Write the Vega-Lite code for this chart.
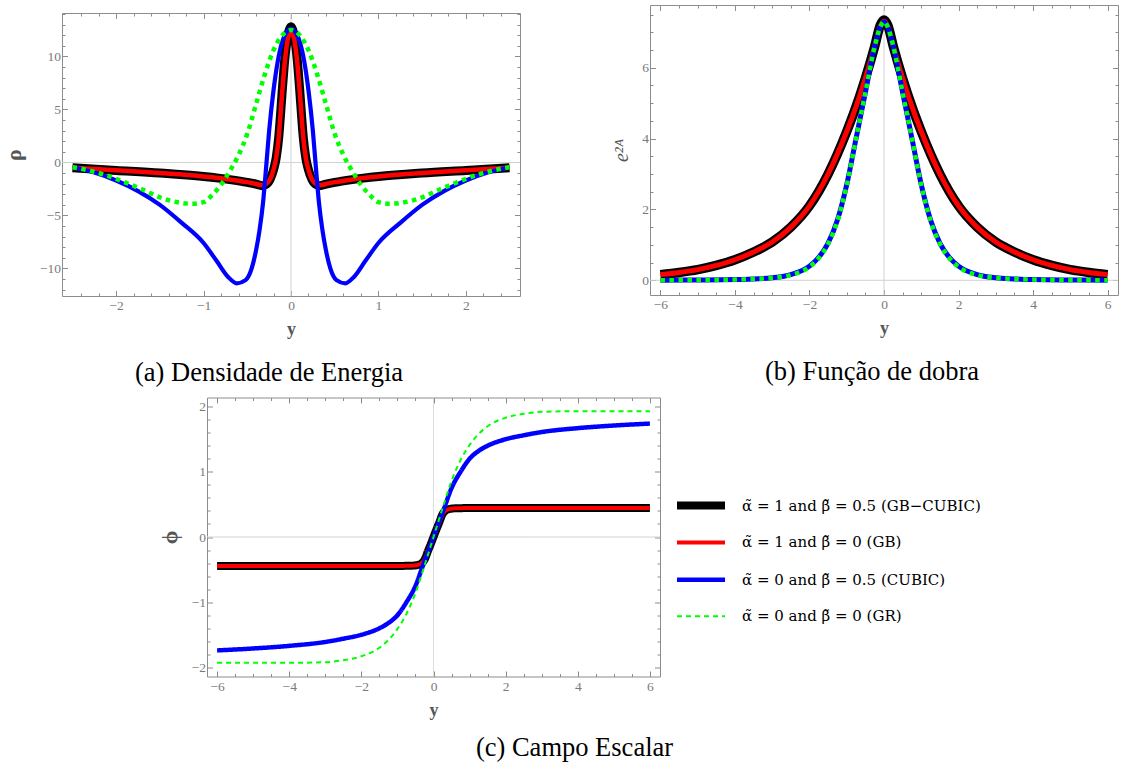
{
  "$schema": "https://vega.github.io/schema/vega-lite/v6.json",
  "background": "white",
  "padding": {"left": 1, "top": 4, "right": 1, "bottom": 2},
  "datasets": {
    "curves": [
      {"p":"a","m":"GB-CUBIC","y":-2.5,"f":-0.5},{"p":"a","m":"GB-CUBIC","y":-2,"f":-0.75},{"p":"a","m":"GB-CUBIC","y":-1.5,"f":-1},{"p":"a","m":"GB-CUBIC","y":-1,"f":-1.33},{"p":"a","m":"GB-CUBIC","y":-0.7,"f":-1.62},{"p":"a","m":"GB-CUBIC","y":-0.5,"f":-1.88},{"p":"a","m":"GB-CUBIC","y":-0.4,"f":-2.05},{"p":"a","m":"GB-CUBIC","y":-0.33,"f":-2.2},{"p":"a","m":"GB-CUBIC","y":-0.28,"f":-2.05},{"p":"a","m":"GB-CUBIC","y":-0.24,"f":-1.6},{"p":"a","m":"GB-CUBIC","y":-0.2,"f":-0.7},{"p":"a","m":"GB-CUBIC","y":-0.17,"f":0.4},{"p":"a","m":"GB-CUBIC","y":-0.14,"f":2.4},{"p":"a","m":"GB-CUBIC","y":-0.12,"f":4.5},{"p":"a","m":"GB-CUBIC","y":-0.1,"f":6.8},{"p":"a","m":"GB-CUBIC","y":-0.08,"f":8.9},{"p":"a","m":"GB-CUBIC","y":-0.06,"f":10.6},{"p":"a","m":"GB-CUBIC","y":-0.04,"f":11.8},{"p":"a","m":"GB-CUBIC","y":-0.02,"f":12.5},{"p":"a","m":"GB-CUBIC","y":0,"f":12.8},{"p":"a","m":"GB-CUBIC","y":0.02,"f":12.5},{"p":"a","m":"GB-CUBIC","y":0.04,"f":11.8},{"p":"a","m":"GB-CUBIC","y":0.06,"f":10.6},{"p":"a","m":"GB-CUBIC","y":0.08,"f":8.9},{"p":"a","m":"GB-CUBIC","y":0.1,"f":6.8},{"p":"a","m":"GB-CUBIC","y":0.12,"f":4.5},{"p":"a","m":"GB-CUBIC","y":0.14,"f":2.4},{"p":"a","m":"GB-CUBIC","y":0.17,"f":0.4},{"p":"a","m":"GB-CUBIC","y":0.2,"f":-0.7},{"p":"a","m":"GB-CUBIC","y":0.24,"f":-1.6},{"p":"a","m":"GB-CUBIC","y":0.28,"f":-2.05},{"p":"a","m":"GB-CUBIC","y":0.33,"f":-2.2},{"p":"a","m":"GB-CUBIC","y":0.4,"f":-2.05},{"p":"a","m":"GB-CUBIC","y":0.5,"f":-1.88},{"p":"a","m":"GB-CUBIC","y":0.7,"f":-1.62},{"p":"a","m":"GB-CUBIC","y":1,"f":-1.33},{"p":"a","m":"GB-CUBIC","y":1.5,"f":-1},{"p":"a","m":"GB-CUBIC","y":2,"f":-0.75},{"p":"a","m":"GB-CUBIC","y":2.5,"f":-0.5},

      {"p":"a","m":"GB","y":-2.5,"f":-0.5},{"p":"a","m":"GB","y":-2,"f":-0.74},{"p":"a","m":"GB","y":-1.5,"f":-1},{"p":"a","m":"GB","y":-1,"f":-1.32},{"p":"a","m":"GB","y":-0.7,"f":-1.6},{"p":"a","m":"GB","y":-0.5,"f":-1.86},{"p":"a","m":"GB","y":-0.4,"f":-2.03},{"p":"a","m":"GB","y":-0.33,"f":-2.15},{"p":"a","m":"GB","y":-0.28,"f":-2.0},{"p":"a","m":"GB","y":-0.24,"f":-1.6},{"p":"a","m":"GB","y":-0.2,"f":-0.7},{"p":"a","m":"GB","y":-0.17,"f":0.4},{"p":"a","m":"GB","y":-0.14,"f":2.4},{"p":"a","m":"GB","y":-0.12,"f":4.5},{"p":"a","m":"GB","y":-0.1,"f":6.7},{"p":"a","m":"GB","y":-0.08,"f":8.7},{"p":"a","m":"GB","y":-0.06,"f":10.3},{"p":"a","m":"GB","y":-0.04,"f":11.5},{"p":"a","m":"GB","y":-0.02,"f":12.1},{"p":"a","m":"GB","y":0,"f":12.4},{"p":"a","m":"GB","y":0.02,"f":12.1},{"p":"a","m":"GB","y":0.04,"f":11.5},{"p":"a","m":"GB","y":0.06,"f":10.3},{"p":"a","m":"GB","y":0.08,"f":8.7},{"p":"a","m":"GB","y":0.1,"f":6.7},{"p":"a","m":"GB","y":0.12,"f":4.5},{"p":"a","m":"GB","y":0.14,"f":2.4},{"p":"a","m":"GB","y":0.17,"f":0.4},{"p":"a","m":"GB","y":0.2,"f":-0.7},{"p":"a","m":"GB","y":0.24,"f":-1.6},{"p":"a","m":"GB","y":0.28,"f":-2.0},{"p":"a","m":"GB","y":0.33,"f":-2.15},{"p":"a","m":"GB","y":0.4,"f":-2.03},{"p":"a","m":"GB","y":0.5,"f":-1.86},{"p":"a","m":"GB","y":0.7,"f":-1.6},{"p":"a","m":"GB","y":1,"f":-1.32},{"p":"a","m":"GB","y":1.5,"f":-1},{"p":"a","m":"GB","y":2,"f":-0.74},{"p":"a","m":"GB","y":2.5,"f":-0.5},

      {"p":"a","m":"CUBIC","y":-2.5,"f":-0.45},{"p":"a","m":"CUBIC","y":-2.25,"f":-0.95},{"p":"a","m":"CUBIC","y":-2,"f":-1.7},{"p":"a","m":"CUBIC","y":-1.75,"f":-2.7},{"p":"a","m":"CUBIC","y":-1.5,"f":-4.0},{"p":"a","m":"CUBIC","y":-1.25,"f":-5.7},{"p":"a","m":"CUBIC","y":-1,"f":-7.6},{"p":"a","m":"CUBIC","y":-0.85,"f":-9.3},{"p":"a","m":"CUBIC","y":-0.72,"f":-10.8},{"p":"a","m":"CUBIC","y":-0.62,"f":-11.4},{"p":"a","m":"CUBIC","y":-0.52,"f":-11.1},{"p":"a","m":"CUBIC","y":-0.45,"f":-10.0},{"p":"a","m":"CUBIC","y":-0.4,"f":-8.3},{"p":"a","m":"CUBIC","y":-0.36,"f":-6.4},{"p":"a","m":"CUBIC","y":-0.32,"f":-3.8},{"p":"a","m":"CUBIC","y":-0.285,"f":-0.5},{"p":"a","m":"CUBIC","y":-0.25,"f":3.0},{"p":"a","m":"CUBIC","y":-0.2,"f":6.8},{"p":"a","m":"CUBIC","y":-0.15,"f":9.6},{"p":"a","m":"CUBIC","y":-0.1,"f":11.4},{"p":"a","m":"CUBIC","y":-0.05,"f":12.3},{"p":"a","m":"CUBIC","y":0,"f":12.6},{"p":"a","m":"CUBIC","y":0.05,"f":12.3},{"p":"a","m":"CUBIC","y":0.1,"f":11.4},{"p":"a","m":"CUBIC","y":0.15,"f":9.6},{"p":"a","m":"CUBIC","y":0.2,"f":6.8},{"p":"a","m":"CUBIC","y":0.25,"f":3.0},{"p":"a","m":"CUBIC","y":0.285,"f":-0.5},{"p":"a","m":"CUBIC","y":0.32,"f":-3.8},{"p":"a","m":"CUBIC","y":0.36,"f":-6.4},{"p":"a","m":"CUBIC","y":0.4,"f":-8.3},{"p":"a","m":"CUBIC","y":0.45,"f":-10.0},{"p":"a","m":"CUBIC","y":0.52,"f":-11.1},{"p":"a","m":"CUBIC","y":0.62,"f":-11.4},{"p":"a","m":"CUBIC","y":0.72,"f":-10.8},{"p":"a","m":"CUBIC","y":0.85,"f":-9.3},{"p":"a","m":"CUBIC","y":1,"f":-7.6},{"p":"a","m":"CUBIC","y":1.25,"f":-5.7},{"p":"a","m":"CUBIC","y":1.5,"f":-4.0},{"p":"a","m":"CUBIC","y":1.75,"f":-2.7},{"p":"a","m":"CUBIC","y":2,"f":-1.7},{"p":"a","m":"CUBIC","y":2.25,"f":-0.95},{"p":"a","m":"CUBIC","y":2.5,"f":-0.45},

      {"p":"a","m":"GR","y":-2.5,"f":-0.44},{"p":"a","m":"GR","y":-2.3,"f":-0.78},{"p":"a","m":"GR","y":-2.1,"f":-1.25},{"p":"a","m":"GR","y":-1.9,"f":-1.88},{"p":"a","m":"GR","y":-1.7,"f":-2.55},{"p":"a","m":"GR","y":-1.5,"f":-3.3},{"p":"a","m":"GR","y":-1.3,"f":-3.75},{"p":"a","m":"GR","y":-1.13,"f":-3.9},{"p":"a","m":"GR","y":-1,"f":-3.75},{"p":"a","m":"GR","y":-0.9,"f":-3.05},{"p":"a","m":"GR","y":-0.8,"f":-2.1},{"p":"a","m":"GR","y":-0.7,"f":-0.8},{"p":"a","m":"GR","y":-0.6,"f":0.7},{"p":"a","m":"GR","y":-0.5,"f":2.7},{"p":"a","m":"GR","y":-0.4,"f":5.5},{"p":"a","m":"GR","y":-0.3,"f":8.3},{"p":"a","m":"GR","y":-0.2,"f":10.6},{"p":"a","m":"GR","y":-0.1,"f":12.0},{"p":"a","m":"GR","y":0,"f":12.5},{"p":"a","m":"GR","y":0.1,"f":12.0},{"p":"a","m":"GR","y":0.2,"f":10.6},{"p":"a","m":"GR","y":0.3,"f":8.3},{"p":"a","m":"GR","y":0.4,"f":5.5},{"p":"a","m":"GR","y":0.5,"f":2.7},{"p":"a","m":"GR","y":0.6,"f":0.7},{"p":"a","m":"GR","y":0.7,"f":-0.8},{"p":"a","m":"GR","y":0.8,"f":-2.1},{"p":"a","m":"GR","y":0.9,"f":-3.05},{"p":"a","m":"GR","y":1,"f":-3.75},{"p":"a","m":"GR","y":1.13,"f":-3.9},{"p":"a","m":"GR","y":1.3,"f":-3.75},{"p":"a","m":"GR","y":1.5,"f":-3.3},{"p":"a","m":"GR","y":1.7,"f":-2.55},{"p":"a","m":"GR","y":1.9,"f":-1.88},{"p":"a","m":"GR","y":2.1,"f":-1.25},{"p":"a","m":"GR","y":2.3,"f":-0.78},{"p":"a","m":"GR","y":2.5,"f":-0.44},

      {"p":"b","m":"GB-CUBIC","y":-6,"f":0.16},{"p":"b","m":"GB-CUBIC","y":-5.5,"f":0.22},{"p":"b","m":"GB-CUBIC","y":-5,"f":0.3},{"p":"b","m":"GB-CUBIC","y":-4.5,"f":0.42},{"p":"b","m":"GB-CUBIC","y":-4,"f":0.58},{"p":"b","m":"GB-CUBIC","y":-3.5,"f":0.8},{"p":"b","m":"GB-CUBIC","y":-3,"f":1.08},{"p":"b","m":"GB-CUBIC","y":-2.5,"f":1.5},{"p":"b","m":"GB-CUBIC","y":-2,"f":2.1},{"p":"b","m":"GB-CUBIC","y":-1.5,"f":3.0},{"p":"b","m":"GB-CUBIC","y":-1,"f":4.2},{"p":"b","m":"GB-CUBIC","y":-0.75,"f":4.9},{"p":"b","m":"GB-CUBIC","y":-0.5,"f":5.7},{"p":"b","m":"GB-CUBIC","y":-0.25,"f":6.6},{"p":"b","m":"GB-CUBIC","y":-0.1,"f":7.2},{"p":"b","m":"GB-CUBIC","y":0,"f":7.35},{"p":"b","m":"GB-CUBIC","y":0.1,"f":7.2},{"p":"b","m":"GB-CUBIC","y":0.25,"f":6.6},{"p":"b","m":"GB-CUBIC","y":0.5,"f":5.7},{"p":"b","m":"GB-CUBIC","y":0.75,"f":4.9},{"p":"b","m":"GB-CUBIC","y":1,"f":4.2},{"p":"b","m":"GB-CUBIC","y":1.5,"f":3.0},{"p":"b","m":"GB-CUBIC","y":2,"f":2.1},{"p":"b","m":"GB-CUBIC","y":2.5,"f":1.5},{"p":"b","m":"GB-CUBIC","y":3,"f":1.08},{"p":"b","m":"GB-CUBIC","y":3.5,"f":0.8},{"p":"b","m":"GB-CUBIC","y":4,"f":0.58},{"p":"b","m":"GB-CUBIC","y":4.5,"f":0.42},{"p":"b","m":"GB-CUBIC","y":5,"f":0.3},{"p":"b","m":"GB-CUBIC","y":5.5,"f":0.22},{"p":"b","m":"GB-CUBIC","y":6,"f":0.16},

      {"p":"b","m":"GB","y":-6,"f":0.16},{"p":"b","m":"GB","y":-5.5,"f":0.22},{"p":"b","m":"GB","y":-5,"f":0.3},{"p":"b","m":"GB","y":-4.5,"f":0.42},{"p":"b","m":"GB","y":-4,"f":0.58},{"p":"b","m":"GB","y":-3.5,"f":0.8},{"p":"b","m":"GB","y":-3,"f":1.08},{"p":"b","m":"GB","y":-2.5,"f":1.5},{"p":"b","m":"GB","y":-2,"f":2.1},{"p":"b","m":"GB","y":-1.5,"f":3.0},{"p":"b","m":"GB","y":-1,"f":4.2},{"p":"b","m":"GB","y":-0.75,"f":4.9},{"p":"b","m":"GB","y":-0.5,"f":5.7},{"p":"b","m":"GB","y":-0.25,"f":6.6},{"p":"b","m":"GB","y":-0.1,"f":7.17},{"p":"b","m":"GB","y":0,"f":7.32},{"p":"b","m":"GB","y":0.1,"f":7.17},{"p":"b","m":"GB","y":0.25,"f":6.6},{"p":"b","m":"GB","y":0.5,"f":5.7},{"p":"b","m":"GB","y":0.75,"f":4.9},{"p":"b","m":"GB","y":1,"f":4.2},{"p":"b","m":"GB","y":1.5,"f":3.0},{"p":"b","m":"GB","y":2,"f":2.1},{"p":"b","m":"GB","y":2.5,"f":1.5},{"p":"b","m":"GB","y":3,"f":1.08},{"p":"b","m":"GB","y":3.5,"f":0.8},{"p":"b","m":"GB","y":4,"f":0.58},{"p":"b","m":"GB","y":4.5,"f":0.42},{"p":"b","m":"GB","y":5,"f":0.3},{"p":"b","m":"GB","y":5.5,"f":0.22},{"p":"b","m":"GB","y":6,"f":0.16},

      {"p":"b","m":"CUBIC","y":-6,"f":0.003},{"p":"b","m":"CUBIC","y":-5,"f":0.008},{"p":"b","m":"CUBIC","y":-4,"f":0.02},{"p":"b","m":"CUBIC","y":-3.5,"f":0.04},{"p":"b","m":"CUBIC","y":-3,"f":0.07},{"p":"b","m":"CUBIC","y":-2.5,"f":0.16},{"p":"b","m":"CUBIC","y":-2,"f":0.4},{"p":"b","m":"CUBIC","y":-1.75,"f":0.65},{"p":"b","m":"CUBIC","y":-1.5,"f":1.05},{"p":"b","m":"CUBIC","y":-1.25,"f":1.7},{"p":"b","m":"CUBIC","y":-1,"f":2.7},{"p":"b","m":"CUBIC","y":-0.75,"f":4.0},{"p":"b","m":"CUBIC","y":-0.5,"f":5.3},{"p":"b","m":"CUBIC","y":-0.25,"f":6.6},{"p":"b","m":"CUBIC","y":-0.1,"f":7.15},{"p":"b","m":"CUBIC","y":0,"f":7.3},{"p":"b","m":"CUBIC","y":0.1,"f":7.15},{"p":"b","m":"CUBIC","y":0.25,"f":6.6},{"p":"b","m":"CUBIC","y":0.5,"f":5.3},{"p":"b","m":"CUBIC","y":0.75,"f":4.0},{"p":"b","m":"CUBIC","y":1,"f":2.7},{"p":"b","m":"CUBIC","y":1.25,"f":1.7},{"p":"b","m":"CUBIC","y":1.5,"f":1.05},{"p":"b","m":"CUBIC","y":1.75,"f":0.65},{"p":"b","m":"CUBIC","y":2,"f":0.4},{"p":"b","m":"CUBIC","y":2.5,"f":0.16},{"p":"b","m":"CUBIC","y":3,"f":0.07},{"p":"b","m":"CUBIC","y":3.5,"f":0.04},{"p":"b","m":"CUBIC","y":4,"f":0.02},{"p":"b","m":"CUBIC","y":5,"f":0.008},{"p":"b","m":"CUBIC","y":6,"f":0.003},

      {"p":"b","m":"GR","y":-6,"f":0.003},{"p":"b","m":"GR","y":-5,"f":0.008},{"p":"b","m":"GR","y":-4,"f":0.02},{"p":"b","m":"GR","y":-3.5,"f":0.04},{"p":"b","m":"GR","y":-3,"f":0.07},{"p":"b","m":"GR","y":-2.5,"f":0.15},{"p":"b","m":"GR","y":-2,"f":0.38},{"p":"b","m":"GR","y":-1.75,"f":0.63},{"p":"b","m":"GR","y":-1.5,"f":1.03},{"p":"b","m":"GR","y":-1.25,"f":1.68},{"p":"b","m":"GR","y":-1,"f":2.68},{"p":"b","m":"GR","y":-0.75,"f":4.0},{"p":"b","m":"GR","y":-0.5,"f":5.3},{"p":"b","m":"GR","y":-0.25,"f":6.6},{"p":"b","m":"GR","y":-0.1,"f":7.15},{"p":"b","m":"GR","y":0,"f":7.3},{"p":"b","m":"GR","y":0.1,"f":7.15},{"p":"b","m":"GR","y":0.25,"f":6.6},{"p":"b","m":"GR","y":0.5,"f":5.3},{"p":"b","m":"GR","y":0.75,"f":4.0},{"p":"b","m":"GR","y":1,"f":2.68},{"p":"b","m":"GR","y":1.25,"f":1.68},{"p":"b","m":"GR","y":1.5,"f":1.03},{"p":"b","m":"GR","y":1.75,"f":0.63},{"p":"b","m":"GR","y":2,"f":0.38},{"p":"b","m":"GR","y":2.5,"f":0.15},{"p":"b","m":"GR","y":3,"f":0.07},{"p":"b","m":"GR","y":3.5,"f":0.04},{"p":"b","m":"GR","y":4,"f":0.02},{"p":"b","m":"GR","y":5,"f":0.008},{"p":"b","m":"GR","y":6,"f":0.003},

      {"p":"c","m":"GB-CUBIC","y":-6,"f":-0.445},{"p":"c","m":"GB-CUBIC","y":-3,"f":-0.445},{"p":"c","m":"GB-CUBIC","y":-1,"f":-0.444},{"p":"c","m":"GB-CUBIC","y":-0.6,"f":-0.44},{"p":"c","m":"GB-CUBIC","y":-0.45,"f":-0.43},{"p":"c","m":"GB-CUBIC","y":-0.35,"f":-0.41},{"p":"c","m":"GB-CUBIC","y":-0.25,"f":-0.35},{"p":"c","m":"GB-CUBIC","y":-0.15,"f":-0.21},{"p":"c","m":"GB-CUBIC","y":-0.07,"f":-0.1},{"p":"c","m":"GB-CUBIC","y":0,"f":0},{"p":"c","m":"GB-CUBIC","y":0.07,"f":0.1},{"p":"c","m":"GB-CUBIC","y":0.15,"f":0.21},{"p":"c","m":"GB-CUBIC","y":0.25,"f":0.35},{"p":"c","m":"GB-CUBIC","y":0.35,"f":0.41},{"p":"c","m":"GB-CUBIC","y":0.45,"f":0.43},{"p":"c","m":"GB-CUBIC","y":0.6,"f":0.44},{"p":"c","m":"GB-CUBIC","y":1,"f":0.444},{"p":"c","m":"GB-CUBIC","y":3,"f":0.445},{"p":"c","m":"GB-CUBIC","y":6,"f":0.445},

      {"p":"c","m":"GB","y":-6,"f":-0.445},{"p":"c","m":"GB","y":-3,"f":-0.445},{"p":"c","m":"GB","y":-1,"f":-0.444},{"p":"c","m":"GB","y":-0.6,"f":-0.44},{"p":"c","m":"GB","y":-0.45,"f":-0.43},{"p":"c","m":"GB","y":-0.35,"f":-0.41},{"p":"c","m":"GB","y":-0.25,"f":-0.35},{"p":"c","m":"GB","y":-0.15,"f":-0.21},{"p":"c","m":"GB","y":-0.07,"f":-0.1},{"p":"c","m":"GB","y":0,"f":0},{"p":"c","m":"GB","y":0.07,"f":0.1},{"p":"c","m":"GB","y":0.15,"f":0.21},{"p":"c","m":"GB","y":0.25,"f":0.35},{"p":"c","m":"GB","y":0.35,"f":0.41},{"p":"c","m":"GB","y":0.45,"f":0.43},{"p":"c","m":"GB","y":0.6,"f":0.44},{"p":"c","m":"GB","y":1,"f":0.444},{"p":"c","m":"GB","y":3,"f":0.445},{"p":"c","m":"GB","y":6,"f":0.445},

      {"p":"c","m":"CUBIC","y":-6,"f":-1.74},{"p":"c","m":"CUBIC","y":-5,"f":-1.71},{"p":"c","m":"CUBIC","y":-4,"f":-1.67},{"p":"c","m":"CUBIC","y":-3,"f":-1.61},{"p":"c","m":"CUBIC","y":-2.5,"f":-1.56},{"p":"c","m":"CUBIC","y":-2,"f":-1.5},{"p":"c","m":"CUBIC","y":-1.5,"f":-1.4},{"p":"c","m":"CUBIC","y":-1.25,"f":-1.32},{"p":"c","m":"CUBIC","y":-1,"f":-1.2},{"p":"c","m":"CUBIC","y":-0.75,"f":-1.0},{"p":"c","m":"CUBIC","y":-0.5,"f":-0.75},{"p":"c","m":"CUBIC","y":-0.3,"f":-0.45},{"p":"c","m":"CUBIC","y":-0.15,"f":-0.23},{"p":"c","m":"CUBIC","y":0,"f":0},{"p":"c","m":"CUBIC","y":0.15,"f":0.23},{"p":"c","m":"CUBIC","y":0.3,"f":0.45},{"p":"c","m":"CUBIC","y":0.5,"f":0.75},{"p":"c","m":"CUBIC","y":0.75,"f":1.0},{"p":"c","m":"CUBIC","y":1,"f":1.2},{"p":"c","m":"CUBIC","y":1.25,"f":1.32},{"p":"c","m":"CUBIC","y":1.5,"f":1.4},{"p":"c","m":"CUBIC","y":2,"f":1.5},{"p":"c","m":"CUBIC","y":2.5,"f":1.56},{"p":"c","m":"CUBIC","y":3,"f":1.61},{"p":"c","m":"CUBIC","y":4,"f":1.67},{"p":"c","m":"CUBIC","y":5,"f":1.71},{"p":"c","m":"CUBIC","y":6,"f":1.74},

      {"p":"c","m":"GR","y":-6,"f":-1.93},{"p":"c","m":"GR","y":-4,"f":-1.93},{"p":"c","m":"GR","y":-3,"f":-1.92},{"p":"c","m":"GR","y":-2.5,"f":-1.89},{"p":"c","m":"GR","y":-2,"f":-1.83},{"p":"c","m":"GR","y":-1.5,"f":-1.7},{"p":"c","m":"GR","y":-1.25,"f":-1.58},{"p":"c","m":"GR","y":-1,"f":-1.41},{"p":"c","m":"GR","y":-0.75,"f":-1.18},{"p":"c","m":"GR","y":-0.5,"f":-0.86},{"p":"c","m":"GR","y":-0.25,"f":-0.44},{"p":"c","m":"GR","y":0,"f":0},{"p":"c","m":"GR","y":0.25,"f":0.44},{"p":"c","m":"GR","y":0.5,"f":0.86},{"p":"c","m":"GR","y":0.75,"f":1.18},{"p":"c","m":"GR","y":1,"f":1.41},{"p":"c","m":"GR","y":1.25,"f":1.58},{"p":"c","m":"GR","y":1.5,"f":1.7},{"p":"c","m":"GR","y":2,"f":1.83},{"p":"c","m":"GR","y":2.5,"f":1.89},{"p":"c","m":"GR","y":3,"f":1.92},{"p":"c","m":"GR","y":4,"f":1.93},{"p":"c","m":"GR","y":6,"f":1.93}
    ]
  },
  "config": {
    "view": {"stroke": "#8c8c8c", "strokeWidth": 1},
    "font": "Liberation Serif",
    "axis": {
      "domain": false, "grid": false, "minExtent": 0,
      "labelFont": "Liberation Serif", "labelFontSize": 13.5, "labelColor": "#7a7a7a",
      "labelOverlap": false, "labelFlush": false,
      "tickColor": "#8c8c8c", "tickWidth": 1,
      "titleFont": "Liberation Serif", "titleFontWeight": "bold", "titleFontSize": 18, "titleColor": "#555555"
    },
    "axisX": {"minExtent": 0},
    "axisY": {"minExtent": 0},
    "title": {"font": "Liberation Serif", "fontSize": 26.5, "fontWeight": "normal", "color": "#000000", "orient": "bottom", "anchor": "middle", "frame": "group", "offset": 21},
    "line": {"interpolate": "monotone", "strokeCap": "butt", "strokeJoin": "round"}
  },
  "spacing": 9.5,
  "resolve": {"legend": {"color": "independent", "strokeWidth": "independent", "strokeDash": "independent"}},
  "vconcat": [
    {
      "spacing": 90,
      "hconcat": [
        {
          "spacing": 0,
          "vconcat": [
            {"width": 10, "height": 1, "data": {"values": []}, "mark": {"type": "point", "opacity": 0}, "encoding": {}, "view": {"stroke": null}},
            {
              "width": 458, "height": 283,
              "title": {"text": "(a) Densidade de Energia", "dx": -22},
              "data": {"name": "curves"},
              "resolve": {"axis": {"x": "independent", "y": "independent"}},
              "layer": [
                {
                  "data": {"values": [{}]},
                  "mark": {"type": "rule", "color": "#d2d2d2", "strokeWidth": 1},
                  "encoding": {
                    "y": {"datum": 0, "type": "quantitative", "scale": {"domain": [-12.6, 14.1], "nice": false, "zero": false},
                      "axis": {"orient": "right", "labels": false, "title": null,
                        "values": [-12,-11,-10,-9,-8,-7,-6,-5,-4,-3,-2,-1,0,1,2,3,4,5,6,7,8,9,10,11,12,13,14],
                        "tickSize": {"condition": {"test": "datum.value % 5 === 0", "value": -5.5}, "value": -3}}}
                  }
                },
                {
                  "data": {"values": [{}]},
                  "mark": {"type": "rule", "color": "#d2d2d2", "strokeWidth": 1},
                  "encoding": {
                    "x": {"datum": 0, "type": "quantitative", "scale": {"domain": [-2.62, 2.62], "nice": false, "zero": false},
                      "axis": {"orient": "top", "labels": false, "title": null,
                        "values": [-2.4,-2.2,-2,-1.8,-1.6,-1.4,-1.2,-1,-0.8,-0.6,-0.4,-0.2,0,0.2,0.4,0.6,0.8,1,1.2,1.4,1.6,1.8,2,2.2,2.4],
                        "tickSize": {"condition": {"test": "abs(datum.value - round(datum.value)) < 1e-6", "value": -5.5}, "value": -3}}}
                  }
                },
                {
                  "transform": [{"filter": "datum.p == 'a' && datum.m == 'GB-CUBIC'"}],
                  "mark": {"type": "line", "color": "#000000", "strokeWidth": 9},
                  "encoding": {
                    "x": {"field": "y", "type": "quantitative", "scale": {"domain": [-2.62, 2.62], "nice": false, "zero": false},
                      "axis": {"orient": "bottom", "title": "y", "titlePadding": 6, "labelPadding": 8, "format": "~g",
                        "values": [-2.4,-2.2,-2,-1.8,-1.6,-1.4,-1.2,-1,-0.8,-0.6,-0.4,-0.2,0,0.2,0.4,0.6,0.8,1,1.2,1.4,1.6,1.8,2,2.2,2.4],
                        "tickSize": {"condition": {"test": "abs(datum.value - round(datum.value)) < 1e-6", "value": -5.5}, "value": -3},
                        "labelExpr": "abs(datum.value - round(datum.value)) < 1e-6 ? datum.label : ''"}},
                    "y": {"field": "f", "type": "quantitative", "scale": {"domain": [-12.6, 14.1], "nice": false, "zero": false},
                      "axis": {"orient": "left", "title": "ρ", "titleFontSize": 22, "titlePadding": 14, "labelPadding": 7, "format": "~g",
                        "values": [-12,-11,-10,-9,-8,-7,-6,-5,-4,-3,-2,-1,0,1,2,3,4,5,6,7,8,9,10,11,12,13,14],
                        "tickSize": {"condition": {"test": "datum.value % 5 === 0", "value": -5.5}, "value": -3},
                        "labelExpr": "datum.value % 5 === 0 ? datum.label : ''"}}
                  }
                },
                {
                  "transform": [{"filter": "datum.p == 'a' && datum.m == 'GB'"}],
                  "mark": {"type": "line", "color": "#ff0000", "strokeWidth": 4.5},
                  "encoding": {
                    "x": {"field": "y", "type": "quantitative", "scale": {"domain": [-2.62, 2.62], "nice": false, "zero": false}, "axis": null},
                    "y": {"field": "f", "type": "quantitative", "scale": {"domain": [-12.6, 14.1], "nice": false, "zero": false}, "axis": null}
                  }
                },
                {
                  "transform": [{"filter": "datum.p == 'a' && datum.m == 'CUBIC'"}],
                  "mark": {"type": "line", "color": "#0000ff", "strokeWidth": 4.2},
                  "encoding": {
                    "x": {"field": "y", "type": "quantitative", "scale": {"domain": [-2.62, 2.62], "nice": false, "zero": false}, "axis": null},
                    "y": {"field": "f", "type": "quantitative", "scale": {"domain": [-12.6, 14.1], "nice": false, "zero": false}, "axis": null}
                  }
                },
                {
                  "transform": [{"filter": "datum.p == 'a' && datum.m == 'GR'"}],
                  "mark": {"type": "line", "color": "#00ff00", "strokeWidth": 4.5, "strokeDash": [4.5, 4.5]},
                  "encoding": {
                    "x": {"field": "y", "type": "quantitative", "scale": {"domain": [-2.62, 2.62], "nice": false, "zero": false}, "axis": null},
                    "y": {"field": "f", "type": "quantitative", "scale": {"domain": [-12.6, 14.1], "nice": false, "zero": false}, "axis": null}
                  }
                }
              ]
            }
          ]
        },
        {
          "width": 468, "height": 290,
          "title": {"text": "(b) Função de dobra", "dx": -12},
          "data": {"name": "curves"},
          "resolve": {"axis": {"x": "independent", "y": "independent"}},
          "layer": [
            {
              "data": {"values": [{}]},
              "mark": {"type": "rule", "color": "#d2d2d2", "strokeWidth": 1},
              "encoding": {
                "y": {"datum": 0, "type": "quantitative", "scale": {"domain": [-0.415, 7.77], "nice": false, "zero": false},
                  "axis": {"orient": "right", "labels": false, "title": null,
                    "values": [0,0.5,1,1.5,2,2.5,3,3.5,4,4.5,5,5.5,6,6.5,7,7.5],
                    "tickSize": {"condition": {"test": "datum.value % 2 === 0", "value": -5.5}, "value": -3}}}
              }
            },
            {
              "data": {"values": [{}]},
              "mark": {"type": "rule", "color": "#d2d2d2", "strokeWidth": 1},
              "encoding": {
                "x": {"datum": 0, "type": "quantitative", "scale": {"domain": [-6.28, 6.28], "nice": false, "zero": false},
                  "axis": {"orient": "top", "labels": false, "title": null,
                    "values": [-6,-5.5,-5,-4.5,-4,-3.5,-3,-2.5,-2,-1.5,-1,-0.5,0,0.5,1,1.5,2,2.5,3,3.5,4,4.5,5,5.5,6],
                    "tickSize": {"condition": {"test": "datum.value % 2 === 0", "value": -5.5}, "value": -3}}}
              }
            },
            {
              "transform": [{"filter": "datum.p == 'b' && datum.m == 'GB-CUBIC'"}],
              "mark": {"type": "line", "color": "#000000", "strokeWidth": 9.5},
              "encoding": {
                "x": {"field": "y", "type": "quantitative", "scale": {"domain": [-6.28, 6.28], "nice": false, "zero": false},
                  "axis": {"orient": "bottom", "title": "y", "titlePadding": 6, "labelPadding": 8, "format": "~g",
                    "values": [-6,-5.5,-5,-4.5,-4,-3.5,-3,-2.5,-2,-1.5,-1,-0.5,0,0.5,1,1.5,2,2.5,3,3.5,4,4.5,5,5.5,6],
                    "tickSize": {"condition": {"test": "datum.value % 2 === 0", "value": -5.5}, "value": -3},
                    "labelExpr": "datum.value % 2 === 0 ? datum.label : ''"}},
                "y": {"field": "f", "type": "quantitative", "scale": {"domain": [-0.415, 7.77], "nice": false, "zero": false},
                  "axis": {"orient": "left", "title": "e²ᴬ", "titleFontSize": 20, "titleFontWeight": "normal", "titleFontStyle": "italic", "titlePadding": 10, "labelPadding": 7, "format": "~g",
                    "values": [0,0.5,1,1.5,2,2.5,3,3.5,4,4.5,5,5.5,6,6.5,7,7.5],
                    "tickSize": {"condition": {"test": "datum.value % 2 === 0", "value": -5.5}, "value": -3},
                    "labelExpr": "datum.value % 2 === 0 ? datum.label : ''"}}
              }
            },
            {
              "transform": [{"filter": "datum.p == 'b' && datum.m == 'GB'"}],
              "mark": {"type": "line", "color": "#ff0000", "strokeWidth": 5},
              "encoding": {
                "x": {"field": "y", "type": "quantitative", "scale": {"domain": [-6.28, 6.28], "nice": false, "zero": false}, "axis": null},
                "y": {"field": "f", "type": "quantitative", "scale": {"domain": [-0.415, 7.77], "nice": false, "zero": false}, "axis": null}
              }
            },
            {
              "transform": [{"filter": "datum.p == 'b' && datum.m == 'CUBIC'"}],
              "mark": {"type": "line", "color": "#0000ff", "strokeWidth": 5},
              "encoding": {
                "x": {"field": "y", "type": "quantitative", "scale": {"domain": [-6.28, 6.28], "nice": false, "zero": false}, "axis": null},
                "y": {"field": "f", "type": "quantitative", "scale": {"domain": [-0.415, 7.77], "nice": false, "zero": false}, "axis": null}
              }
            },
            {
              "transform": [{"filter": "datum.p == 'b' && datum.m == 'GR'"}],
              "mark": {"type": "line", "color": "#00ff00", "strokeWidth": 4.5, "strokeDash": [4.5, 4.5]},
              "encoding": {
                "x": {"field": "y", "type": "quantitative", "scale": {"domain": [-6.28, 6.28], "nice": false, "zero": false}, "axis": null},
                "y": {"field": "f", "type": "quantitative", "scale": {"domain": [-0.415, 7.77], "nice": false, "zero": false}, "axis": null}
              }
            }
          ]
        }
      ]
    },
    {
      "spacing": 20,
      "resolve": {"legend": {"color": "independent", "strokeWidth": "independent", "strokeDash": "independent"}},
      "hconcat": [
        {"width": 75, "height": 10, "data": {"values": []}, "mark": {"type": "point", "opacity": 0}, "encoding": {}, "view": {"stroke": null}},
        {
          "width": 453, "height": 279,
          "title": {"text": "(c) Campo Escalar", "offset": 16, "dx": 141},
          "data": {"name": "curves"},
          "resolve": {"axis": {"x": "independent", "y": "independent"}},
          "encoding": {
            "color": {"field": "m", "type": "nominal",
              "scale": {"domain": ["GB-CUBIC", "GB", "CUBIC", "GR"], "range": ["#000000", "#ff0000", "#0000ff", "#00ff00"]},
              "legend": {"orient": "none", "legendX": 482, "legendY": 96, "title": null, "padding": 0,
                "symbolType": "M-3,0H3", "symbolSize": 256, "labelOffset": 29, "rowPadding": 18.9,
                "labelFont": "DejaVu Serif", "labelFontSize": 15, "labelColor": "#000000", "labelLimit": 400,
                "labelExpr": "datum.label == 'GB-CUBIC' ? 'α̃ = 1 and β̃ = 0.5 (GB−CUBIC)' : datum.label == 'GB' ? 'α̃ = 1 and β̃ = 0 (GB)' : datum.label == 'CUBIC' ? 'α̃ = 0 and β̃ = 0.5 (CUBIC)' : 'α̃ = 0 and β̃ = 0 (GR)'"}},
            "strokeWidth": {"field": "m", "type": "nominal",
              "scale": {"type": "ordinal", "domain": ["GB-CUBIC", "GB", "CUBIC", "GR"], "range": [8, 4, 4.5, 2]},
              "legend": {"orient": "none", "legendX": 482, "legendY": 96, "title": null, "padding": 0,
                "symbolType": "M-3,0H3", "symbolSize": 256, "labelOffset": 29, "rowPadding": 18.9,
                "labelFont": "DejaVu Serif", "labelFontSize": 15, "labelColor": "#000000", "labelLimit": 400,
                "labelExpr": "datum.label == 'GB-CUBIC' ? 'α̃ = 1 and β̃ = 0.5 (GB−CUBIC)' : datum.label == 'GB' ? 'α̃ = 1 and β̃ = 0 (GB)' : datum.label == 'CUBIC' ? 'α̃ = 0 and β̃ = 0.5 (CUBIC)' : 'α̃ = 0 and β̃ = 0 (GR)'"}},
            "strokeDash": {"field": "m", "type": "nominal",
              "scale": {"domain": ["GB-CUBIC", "GB", "CUBIC", "GR"], "range": [[1, 0], [1, 0], [1, 0], [5, 4]]},
              "legend": {"orient": "none", "legendX": 482, "legendY": 96, "title": null, "padding": 0,
                "symbolType": "M-3,0H3", "symbolSize": 256, "labelOffset": 29, "rowPadding": 18.9,
                "labelFont": "DejaVu Serif", "labelFontSize": 15, "labelColor": "#000000", "labelLimit": 400,
                "labelExpr": "datum.label == 'GB-CUBIC' ? 'α̃ = 1 and β̃ = 0.5 (GB−CUBIC)' : datum.label == 'GB' ? 'α̃ = 1 and β̃ = 0 (GB)' : datum.label == 'CUBIC' ? 'α̃ = 0 and β̃ = 0.5 (CUBIC)' : 'α̃ = 0 and β̃ = 0 (GR)'"}}
          },
          "layer": [
            {
              "data": {"values": [{}]},
              "mark": {"type": "rule"},
              "encoding": {
                "color": {"value": "#d2d2d2"}, "strokeWidth": {"value": 1}, "strokeDash": {"value": [1, 0]},
                "y": {"datum": 0, "type": "quantitative", "scale": {"domain": [-2.14, 2.14], "nice": false, "zero": false},
                  "axis": {"orient": "right", "labels": false, "title": null,
                    "values": [-2,-1.8,-1.6,-1.4,-1.2,-1,-0.8,-0.6,-0.4,-0.2,0,0.2,0.4,0.6,0.8,1,1.2,1.4,1.6,1.8,2],
                    "tickSize": {"condition": {"test": "abs(datum.value - round(datum.value)) < 1e-6", "value": -5.5}, "value": -3}}}
              }
            },
            {
              "data": {"values": [{}]},
              "mark": {"type": "rule"},
              "encoding": {
                "color": {"value": "#d2d2d2"}, "strokeWidth": {"value": 1}, "strokeDash": {"value": [1, 0]},
                "x": {"datum": 0, "type": "quantitative", "scale": {"domain": [-6.28, 6.28], "nice": false, "zero": false},
                  "axis": {"orient": "top", "labels": false, "title": null,
                    "values": [-6,-5.5,-5,-4.5,-4,-3.5,-3,-2.5,-2,-1.5,-1,-0.5,0,0.5,1,1.5,2,2.5,3,3.5,4,4.5,5,5.5,6],
                    "tickSize": {"condition": {"test": "datum.value % 2 === 0", "value": -5.5}, "value": -3}}}
              }
            },
            {
              "transform": [{"filter": "datum.p == 'c' && datum.m == 'GB-CUBIC'"}],
              "mark": {"type": "line"},
              "encoding": {
                "x": {"field": "y", "type": "quantitative", "scale": {"domain": [-6.28, 6.28], "nice": false, "zero": false},
                  "axis": {"orient": "bottom", "title": "y", "titlePadding": 6, "labelPadding": 8, "format": "~g",
                    "values": [-6,-5.5,-5,-4.5,-4,-3.5,-3,-2.5,-2,-1.5,-1,-0.5,0,0.5,1,1.5,2,2.5,3,3.5,4,4.5,5,5.5,6],
                    "tickSize": {"condition": {"test": "datum.value % 2 === 0", "value": -5.5}, "value": -3},
                    "labelExpr": "datum.value % 2 === 0 ? datum.label : ''"}},
                "y": {"field": "f", "type": "quantitative", "scale": {"domain": [-2.14, 2.14], "nice": false, "zero": false},
                  "axis": {"orient": "left", "title": "ϕ", "titleFontSize": 22, "titlePadding": 10, "labelPadding": 7, "format": "~g",
                    "values": [-2,-1.8,-1.6,-1.4,-1.2,-1,-0.8,-0.6,-0.4,-0.2,0,0.2,0.4,0.6,0.8,1,1.2,1.4,1.6,1.8,2],
                    "tickSize": {"condition": {"test": "abs(datum.value - round(datum.value)) < 1e-6", "value": -5.5}, "value": -3},
                    "labelExpr": "abs(datum.value - round(datum.value)) < 1e-6 ? datum.label : ''"}}
              }
            },
            {
              "transform": [{"filter": "datum.p == 'c' && datum.m == 'GB'"}],
              "mark": {"type": "line"},
              "encoding": {
                "x": {"field": "y", "type": "quantitative", "scale": {"domain": [-6.28, 6.28], "nice": false, "zero": false}, "axis": null},
                "y": {"field": "f", "type": "quantitative", "scale": {"domain": [-2.14, 2.14], "nice": false, "zero": false}, "axis": null}
              }
            },
            {
              "transform": [{"filter": "datum.p == 'c' && datum.m == 'CUBIC'"}],
              "mark": {"type": "line"},
              "encoding": {
                "x": {"field": "y", "type": "quantitative", "scale": {"domain": [-6.28, 6.28], "nice": false, "zero": false}, "axis": null},
                "y": {"field": "f", "type": "quantitative", "scale": {"domain": [-2.14, 2.14], "nice": false, "zero": false}, "axis": null}
              }
            },
            {
              "transform": [{"filter": "datum.p == 'c' && datum.m == 'GR'"}],
              "mark": {"type": "line"},
              "encoding": {
                "x": {"field": "y", "type": "quantitative", "scale": {"domain": [-6.28, 6.28], "nice": false, "zero": false}, "axis": null},
                "y": {"field": "f", "type": "quantitative", "scale": {"domain": [-2.14, 2.14], "nice": false, "zero": false}, "axis": null}
              }
            }
          ]
        }
      ]
    }
  ]
}
